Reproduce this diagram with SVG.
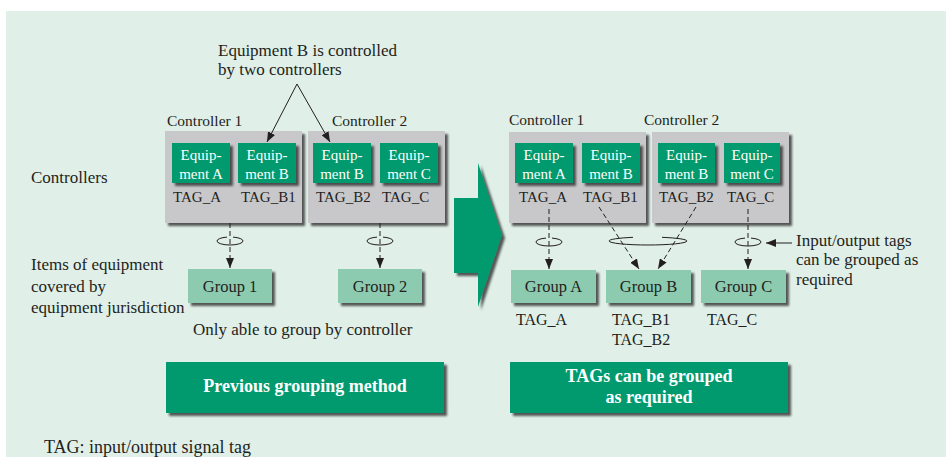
<svg xmlns="http://www.w3.org/2000/svg" width="946" height="457" viewBox="0 0 946 457">
<defs>
<filter id="sh" x="-10%" y="-10%" width="130%" height="140%">
<feDropShadow dx="3" dy="3" stdDeviation="1.3" flood-color="#333" flood-opacity="0.8"/>
</filter>
<marker id="ah" viewBox="0 0 10 8" refX="10" refY="4" markerWidth="10" markerHeight="8" markerUnits="userSpaceOnUse" orient="auto">
<path d="M0,0 L10,4 L0,8 Z" fill="#231f20"/>
</marker>
<style>
text{font-family:"Liberation Serif","Times New Roman",serif;fill:#231f20}
.lbl{font-size:17px}
.ctl{font-size:15.5px}
.tag{font-size:15px}
.tg{font-size:16px}
.eqt{font-size:15px;fill:#fff;text-anchor:middle}
.grt{font-size:16.5px;text-anchor:middle}
.bt{font-size:18px;font-weight:bold;fill:#fff;text-anchor:middle}
.ctrl{fill:#c8c8cb;filter:url(#sh)}
.eq{fill:#009a6e;filter:url(#sh)}
.grp{fill:#8ccbb0;filter:url(#sh)}
.big{fill:#009a6e;filter:url(#sh)}
.dash{stroke:#231f20;stroke-width:1;stroke-dasharray:5 3;fill:none}
.sol{stroke:#231f20;stroke-width:1;fill:none}
</style>
</defs>
<rect x="6" y="11" width="940" height="446" fill="#e0efe8"/>

<!-- left labels -->
<text class="lbl" x="31" y="183">Controllers</text>
<text class="lbl" x="31" y="270">Items of equipment</text>
<text class="lbl" x="31" y="291.5">covered by</text>
<text class="lbl" x="31" y="312.5">equipment jurisdiction</text>
<text class="lbl" x="218" y="56">Equipment B is controlled</text>
<text class="lbl" x="218" y="75">by two controllers</text>
<text class="lbl" x="193" y="335">Only able to group by controller</text>
<text class="lbl" x="44" y="453" style="font-size:18px">TAG: input/output signal tag</text>

<!-- left side controllers -->
<g id="l-controller1">
<text class="ctl" x="167" y="126">Controller 1</text>
<rect class="ctrl" x="165" y="131" width="137" height="92"/>
</g>
<g id="l-controller2">
<text class="ctl" x="332" y="126">Controller 2</text>
<rect class="ctrl" x="308" y="131" width="137" height="92"/>
</g>
<g id="l-eqA">
<rect class="eq" x="172" y="143" width="58" height="40"/>
<text class="eqt" x="201" y="160">Equip-</text><text class="eqt" x="201" y="179">ment A</text>
<text class="tag" x="173" y="202">TAG_A</text>
</g>
<g id="l-eqB1">
<rect class="eq" x="238" y="143" width="58" height="40"/>
<text class="eqt" x="267" y="160">Equip-</text><text class="eqt" x="267" y="179">ment B</text>
<text class="tag" x="241" y="202">TAG_B1</text>
</g>
<g id="l-eqB2">
<rect class="eq" x="313" y="143" width="58" height="40"/>
<text class="eqt" x="342" y="160">Equip-</text><text class="eqt" x="342" y="179">ment B</text>
<text class="tag" x="316" y="202">TAG_B2</text>
</g>
<g id="l-eqC">
<rect class="eq" x="380" y="143" width="58" height="40"/>
<text class="eqt" x="409" y="160">Equip-</text><text class="eqt" x="409" y="179">ment C</text>
<text class="tag" x="382" y="202">TAG_C</text>
</g>
<g id="l-group1">
<rect class="grp" x="188" y="269" width="84" height="34"/>
<text class="grt" x="230" y="292">Group 1</text>
</g>
<g id="l-group2">
<rect class="grp" x="338" y="269" width="84" height="34"/>
<text class="grt" x="380" y="292">Group 2</text>
</g>
<g id="l-method">
<rect class="big" x="166" y="362" width="278" height="51"/>
<text class="bt" x="305" y="392">Previous grouping method</text>
</g>

<!-- big arrow -->
<g id="transition-arrow">
<polygon points="454,198 478,198 478,163 502,235 478,307 478,273 454,273" fill="#009a6e" filter="url(#sh)"/>
</g>

<!-- right side -->
<g id="r-controller1">
<text class="ctl" x="509" y="125">Controller 1</text>
<rect class="ctrl" x="509" y="132" width="137" height="91"/>
</g>
<g id="r-controller2">
<text class="ctl" x="644" y="125">Controller 2</text>
<rect class="ctrl" x="652" y="132" width="137" height="91"/>
</g>
<g id="r-eqA">
<rect class="eq" x="515" y="143" width="58" height="40"/>
<text class="eqt" x="544" y="160">Equip-</text><text class="eqt" x="544" y="179">ment A</text>
<text class="tag" x="519" y="202">TAG_A</text>
</g>
<g id="r-eqB1">
<rect class="eq" x="582" y="143" width="58" height="40"/>
<text class="eqt" x="611" y="160">Equip-</text><text class="eqt" x="611" y="179">ment B</text>
<text class="tag" x="583" y="202">TAG_B1</text>
</g>
<g id="r-eqB2">
<rect class="eq" x="658" y="143" width="57" height="40"/>
<text class="eqt" x="686.5" y="160">Equip-</text><text class="eqt" x="686.5" y="179">ment B</text>
<text class="tag" x="659" y="202">TAG_B2</text>
</g>
<g id="r-eqC">
<rect class="eq" x="724" y="143" width="56" height="40"/>
<text class="eqt" x="752" y="160">Equip-</text><text class="eqt" x="752" y="179">ment C</text>
<text class="tag" x="727" y="202">TAG_C</text>
</g>
<g id="r-groupA">
<rect class="grp" x="511" y="270" width="85" height="33"/>
<text class="grt" x="553.5" y="292">Group A</text>
<text class="tg" x="516" y="325">TAG_A</text>
</g>
<g id="r-groupB">
<rect class="grp" x="606" y="270" width="85" height="33"/>
<text class="grt" x="648.5" y="292">Group B</text>
<text class="tg" x="612" y="325">TAG_B1</text>
<text class="tg" x="612" y="345">TAG_B2</text>
</g>
<g id="r-groupC">
<rect class="grp" x="701" y="270" width="85" height="33"/>
<text class="grt" x="743.5" y="292">Group C</text>
<text class="tg" x="707" y="325">TAG_C</text>
</g>
<g id="r-note">
<text class="lbl" x="796" y="246">Input/output tags</text>
<text class="lbl" x="796" y="265">can be grouped as</text>
<text class="lbl" x="796" y="285">required</text>
</g>
<g id="r-method">
<rect class="big" x="510" y="362" width="278" height="51"/>
<text class="bt" x="649" y="382">TAGs can be grouped</text>
<text class="bt" x="649" y="403">as required</text>
</g>

<!-- connectors -->
<g id="connectors">
<line class="sol" x1="297" y1="84" x2="267" y2="142" marker-end="url(#ah)"/>
<line class="sol" x1="297" y1="84" x2="330" y2="142" marker-end="url(#ah)"/>
<line class="dash" x1="230" y1="223" x2="230" y2="268" marker-end="url(#ah)"/>
<line class="dash" x1="380" y1="223" x2="380" y2="268" marker-end="url(#ah)"/>
<path class="sol" d="M217,241 A13,4 0 0 0 243,241 M217,241 A13,4 0 0 1 227,237.1 M233,237.1 A13,4 0 0 1 243,241"/>
<path class="sol" d="M367,241 A13,4 0 0 0 393,241 M367,241 A13,4 0 0 1 377,237.1 M383,237.1 A13,4 0 0 1 393,241"/>
<line class="dash" x1="549" y1="209" x2="549" y2="269" marker-end="url(#ah)"/>
<line class="dash" x1="599" y1="207" x2="639" y2="269" marker-end="url(#ah)"/>
<line class="dash" x1="696" y1="207" x2="658" y2="269" marker-end="url(#ah)"/>
<line class="dash" x1="748" y1="209" x2="748" y2="269" marker-end="url(#ah)"/>
<path class="sol" d="M536,242 A13,4 0 0 0 562,242 M536,242 A13,4 0 0 1 546,238.1 M552,238.1 A13,4 0 0 1 562,242"/>
<path class="sol" d="M609,241 A39,4 0 0 0 687,241 M609,241 A39,4 0 0 1 633,237.3 M662,237.3 A39,4 0 0 1 687,241"/>
<path class="sol" d="M735,242 A13,4 0 0 0 761,242 M735,242 A13,4 0 0 1 745,238.1 M751,238.1 A13,4 0 0 1 761,242"/>
<line class="sol" x1="792" y1="243" x2="766" y2="243" marker-end="url(#ah)"/>
</g>
</svg>
